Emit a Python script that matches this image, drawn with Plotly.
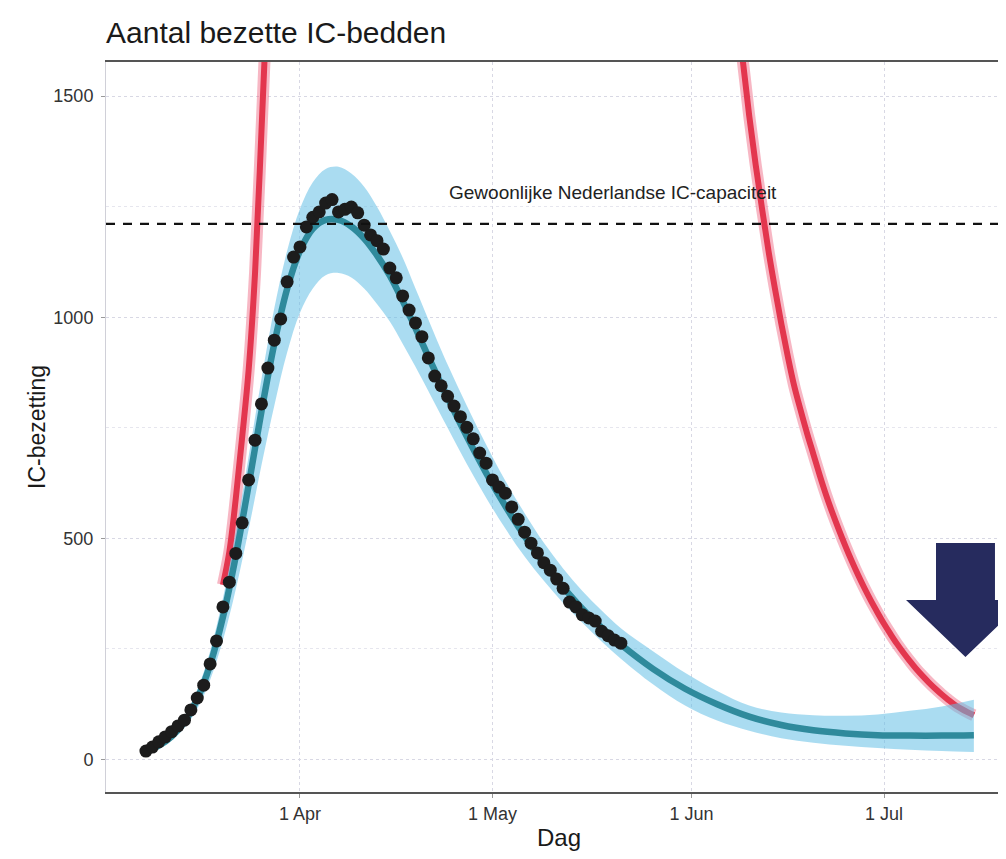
"""
IC-bezetting: waargenomen aantallen, modelfit met onzekerheidsband en scenario's.
"""
import plotly.graph_objects as go
import pandas as pd

# waargenomen bezette IC-bedden, dagelijks vanaf 8 maart
obs_start = "2020-03-08"
obs_values = [
    19, 28, 40, 51, 63, 76, 89, 112, 139, 168, 216, 268, 345, 401, 466,
    535, 632, 722, 804, 885, 948, 996, 1080, 1136, 1159, 1204, 1226, 1238,
    1258, 1266, 1238, 1244, 1249, 1236, 1208, 1186, 1173, 1154, 1111, 1089,
    1048, 1016, 987, 956, 908, 867, 845, 821, 799, 775, 751, 725, 693, 670,
    632, 616, 602, 571, 543, 514, 489, 467, 445, 428, 408, 387, 356, 345,
    327, 320, 313, 290, 280, 270, 263,
]

# modelfit (mediaan) en 95%-band
model_dates = [
    "2020-03-08", "2020-03-10", "2020-03-12", "2020-03-14", "2020-03-16",
    "2020-03-18", "2020-03-20", "2020-03-22", "2020-03-24", "2020-03-26",
    "2020-03-28", "2020-03-30", "2020-04-01", "2020-04-03", "2020-04-05",
    "2020-04-07", "2020-04-09", "2020-04-11", "2020-04-13", "2020-04-15",
    "2020-04-17", "2020-04-19", "2020-04-21", "2020-04-24", "2020-04-27",
    "2020-04-30", "2020-05-03", "2020-05-06", "2020-05-09", "2020-05-12",
    "2020-05-15", "2020-05-18", "2020-05-21", "2020-05-26", "2020-05-31",
    "2020-06-05", "2020-06-10", "2020-06-15", "2020-06-20", "2020-06-25",
    "2020-06-30", "2020-07-05", "2020-07-10", "2020-07-15",
]
model_mid = [
    18, 31, 52, 85, 137, 214, 322, 460, 620, 787, 940, 1064, 1150, 1200,
    1220, 1220, 1205, 1178, 1140, 1094, 1037, 975, 911, 818, 730, 648, 573,
    505, 444, 390, 341, 298, 260, 205, 160, 125, 97, 78, 66, 59, 55, 54, 54, 55,
]
model_upper = [
    22, 36, 60, 98, 158, 245, 365, 515, 685, 860, 1020, 1150, 1245, 1305,
    1335, 1340, 1325, 1295, 1250, 1195, 1135, 1065, 995, 893, 800, 712, 630,
    557, 490, 432, 381, 337, 297, 245, 196, 155, 122, 106, 100, 99, 102, 110,
    120, 135,
]
model_lower = [
    15, 26, 44, 72, 115, 180, 270, 385, 520, 665, 800, 920, 1010, 1065,
    1095, 1100, 1090, 1065, 1030, 990, 940, 888, 833, 750, 668, 592, 522,
    459, 404, 354, 309, 267, 228, 170, 122, 88, 65, 48, 38, 31, 26, 22, 19, 17,
]

# scenario's (rood): zonder maatregelen / na versoepeling
red_up_start = "2020-03-20"
red_up_values = [395, 470, 590, 730, 880, 1100, 1420, 1760]
red_down_start = "2020-06-08"
red_down_values = [
    1720, 1580, 1455, 1345, 1245, 1150, 1065, 985, 912, 845, 790, 738, 690,
    642, 597, 556, 518, 482, 448, 416, 386, 358, 332, 307, 284, 262, 242,
    223, 205, 189, 174, 160, 147, 135, 124, 115, 107, 100,
]

ic_capacity = 1211
capacity_label = "Gewoonlijke Nederlandse IC-capaciteit"

x_ticks = ["2020-04-01", "2020-05-01", "2020-06-01", "2020-07-01"]
x_tick_labels = ["1 Apr", "1 May", "1 Jun", "1 Jul"]
y_ticks = [0, 500, 1000, 1500]


def make_ic_figure():
    """Bouw de IC-bezetting figuur."""
    font_family = "Liberation Sans, Arial, Helvetica, sans-serif"
    red_core = "#e3364e"
    red_halo = "rgba(238, 95, 125, 0.45)"
    band_fill = "rgba(100, 192, 230, 0.55)"
    teal = "#2f8a9c"
    navy = "#262b5e"

    obs_dates = pd.date_range(obs_start, periods=len(obs_values), freq="D")
    up_dates = pd.date_range(red_up_start, periods=len(red_up_values), freq="D")
    down_dates = pd.date_range(red_down_start, periods=len(red_down_values), freq="D")

    fig = go.Figure()

    # rode scenario-lijnen (met zachte rand zoals in de scan)
    for dates, vals in [(up_dates, red_up_values), (down_dates, red_down_values)]:
        fig.add_trace(go.Scatter(
            x=dates, y=vals, mode="lines",
            line=dict(color=red_halo, width=12, shape="spline"),
            hoverinfo="skip", showlegend=False,
        ))
        fig.add_trace(go.Scatter(
            x=dates, y=vals, mode="lines",
            line=dict(color=red_core, width=6, shape="spline"),
            hoverinfo="skip", showlegend=False,
        ))

    # onzekerheidsband
    fig.add_trace(go.Scatter(
        x=model_dates, y=model_upper, mode="lines",
        line=dict(width=0, shape="spline"), hoverinfo="skip", showlegend=False,
    ))
    fig.add_trace(go.Scatter(
        x=model_dates, y=model_lower, mode="lines",
        line=dict(width=0, shape="spline"), fill="tonexty", fillcolor=band_fill,
        hoverinfo="skip", showlegend=False,
    ))
    fig.add_trace(go.Scatter(
        x=model_dates, y=model_mid, mode="lines",
        line=dict(color=teal, width=6.5, shape="spline"),
        showlegend=False,
    ))

    # waarnemingen
    fig.add_trace(go.Scatter(
        x=obs_dates, y=obs_values, mode="markers",
        marker=dict(color="#1c1c1c", size=13, line=dict(width=0)),
        showlegend=False,
    ))

    # capaciteitslijn + label
    fig.add_hline(y=ic_capacity, line=dict(color="#111111", width=2.4, dash="9px,8px"))
    fig.add_annotation(
        x="2020-05-19 19:00", y=1281, text=capacity_label, showarrow=False,
        font=dict(size=19, color="#222222", family=font_family),
    )

    # x-as titel als annotatie (vaste positie onder de tick labels)
    fig.add_annotation(
        x=0.5078, y=-0.063, xref="paper", yref="paper", text="Dag",
        showarrow=False, yanchor="middle",
        font=dict(size=24, color="#1a1a1a", family=font_family),
    )

    # grote pijl rechts (deels buiten beeld, zoals in het origineel)
    fig.add_shape(
        type="path", xref="paper", yref="paper",
        path="M 0.9305,0.3411 L 0.9966,0.3411 L 0.9966,0.2630 L 1.0303,0.2630 "
             "L 0.9635,0.1849 L 0.8969,0.2630 L 0.9305,0.2630 Z",
        fillcolor=navy, line=dict(width=0), layer="above",
    )

    # pagina heeft 8px body-marge: figuur iets kleiner zodat alles in 1006x859 past
    fig.update_layout(
        width=990, height=843,
        title=dict(
            text="Aantal bezette IC-bedden", x=0.099, xanchor="left",
            y=0.9715, yanchor="middle",
            font=dict(size=30, color="#1a1a1a", family=font_family),
        ),
        font=dict(family=font_family, color="#333333"),
        plot_bgcolor="white",
        paper_bgcolor="white",
        margin=dict(l=98, r=0, t=54, b=59),
        xaxis=dict(
            range=["2020-03-01 18:40", "2020-07-18 18:15"],
            tickvals=x_ticks, ticktext=x_tick_labels,
            tickfont=dict(size=18, color="#333333"),
            ticks="outside", ticklen=4, tickcolor="#999999",
            ticklabelstandoff=1, automargin=False,
            showgrid=True, gridcolor="#d8d8e4", griddash="dot", gridwidth=1,
            showline=True, linecolor="#555555", linewidth=1.5, mirror=True,
            zeroline=False,
        ),
        yaxis=dict(
            range=[-73.5, 1577],
            tickvals=y_ticks,
            tickfont=dict(size=18, color="#333333"),
            ticks="outside", ticklen=4, tickcolor="#999999",
            ticklabelstandoff=4, automargin=False,
            showgrid=True, gridcolor="#d8d8e4", griddash="dot", gridwidth=1,
            minor=dict(dtick=250, showgrid=True, gridcolor="#e6e6ee", griddash="dot"),
            showline=True, linecolor="#d0d0d8", linewidth=1,
            zeroline=False,
            title=dict(text="IC-bezetting", font=dict(size=23, color="#1a1a1a"), standoff=1),
        ),
    )
    return fig


fig = make_ic_figure()
fig.write_html("out.html")
